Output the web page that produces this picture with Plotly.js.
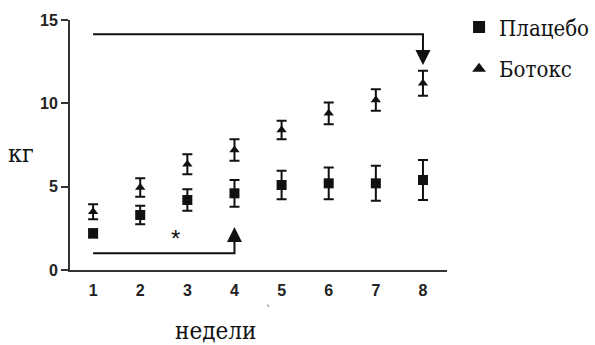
<!DOCTYPE html>
<html>
<head>
<meta charset="utf-8">
<script src="https://cdn.plot.ly/plotly-3.0.1.min.js"></script>
<style>html,body{margin:0;padding:0;background:#fff;}#chart{width:595px;height:345px;}</style>
</head>
<body>
<div id="chart"></div>
<script>
// ---- data ----
const weeks = [1, 2, 3, 4, 5, 6, 7, 8];
const placebo = [2.2, 3.3, 4.2, 4.6, 5.1, 5.2, 5.2, 5.4];
const placeboErr = [0.25, 0.55, 0.65, 0.8, 0.85, 0.95, 1.05, 1.2];
const botox = [3.5, 4.95, 6.35, 7.2, 8.4, 9.4, 10.2, 11.2];
const botoxErr = [0.45, 0.55, 0.6, 0.65, 0.55, 0.65, 0.65, 0.75];
const seriesNames = ["Плацебо", "Ботокс"];
const xTicks = [1, 2, 3, 4, 5, 6, 7, 8];
const yTicks = [0, 5, 10, 15];
// significance brackets
const topBracketX = [1, 8, 8];
const topBracketY = [14.15, 14.15, 12.6];
const topArrowX = [8];
const topArrowY = [12.3];
const bottomBracketX = [1, 4, 4];
const bottomBracketY = [1.0, 1.0, 2.3];
const bottomArrowX = [4];
const bottomArrowY = [2.58];
const starX = 2.74, starY = 1.92;

const ink = '#111';
const traces = [
  {x: weeks, y: placebo, name: seriesNames[0], legendgroup: 'p', type: 'scatter', mode: 'markers',
   marker: {symbol: 'square', size: 10, color: ink},
   error_y: {type: 'data', array: placeboErr, visible: true, color: ink, thickness: 2, width: 5}},
  {x: weeks, y: botox, name: seriesNames[1], legendgroup: 'b', type: 'scatter', mode: 'markers',
   marker: {symbol: 'triangle-up', size: 9, color: ink},
   error_y: {type: 'data', array: botoxErr, visible: true, color: ink, thickness: 2, width: 5}},
  {x: topBracketX, y: topBracketY, mode: 'lines', line: {color: ink, width: 2}, showlegend: false, hoverinfo: 'skip'},
  {x: topArrowX, y: topArrowY, mode: 'markers', marker: {symbol: 'arrow-down', size: 15, color: ink}, showlegend: false, hoverinfo: 'skip', cliponaxis: false},
  {x: bottomBracketX, y: bottomBracketY, mode: 'lines', line: {color: ink, width: 2}, showlegend: false, hoverinfo: 'skip'},
  {x: bottomArrowX, y: bottomArrowY, mode: 'markers', marker: {symbol: 'arrow-up', size: 15, color: ink}, showlegend: false, hoverinfo: 'skip'}
];

const sans = 'Liberation Sans';
const serif = 'DejaVu Serif Condensed, DejaVu Serif';
const layout = {
  width: 595, height: 345,
  margin: {l: 70, r: 148, t: 20, b: 75, autoexpand: false},
  paper_bgcolor: '#fff', plot_bgcolor: '#fff',
  showlegend: true,
  legend: {x: 1.032, xanchor: 'left', y: 1.055, yanchor: 'top',
           font: {family: serif, size: 22, color: ink}, bgcolor: 'rgba(0,0,0,0)',
           tracegroupgap: 10, itemsizing: 'constant'},
  xaxis: {range: [0.51, 8.51], tickvals: xTicks, ticktext: xTicks.map(String),
          showgrid: false, zeroline: false, showline: true, linecolor: '#333', linewidth: 2,
          ticks: '', ticklabelstandoff: 5,
          tickfont: {family: sans, size: 16, color: '#222', weight: 'bold'}},
  yaxis: {range: [0, 15], tickvals: yTicks, ticktext: yTicks.map(String),
          showgrid: false, zeroline: false, showline: true, linecolor: '#333', linewidth: 2,
          ticks: 'outside', ticklen: 7, tickwidth: 2, tickcolor: '#333',
          tickfont: {family: sans, size: 16, color: '#222', weight: 'bold'}},
  annotations: [
    {text: '*', x: starX, y: starY, xref: 'x', yref: 'y', showarrow: false,
     font: {family: sans, size: 24, color: ink}},
    {text: 'кг', x: 21, y: 153, xref: 'paper', yref: 'paper', showarrow: false,
     xanchor: 'center', yanchor: 'middle', font: {family: serif, size: 25, color: ink}},
    {text: 'недели', x: 215, y: 331, xref: 'paper', yref: 'paper', showarrow: false,
     xanchor: 'center', yanchor: 'middle', font: {family: serif, size: 24, color: ink}},
    {text: '`', x: 268, y: 311, xref: 'paper', yref: 'paper', showarrow: false,
     xanchor: 'center', yanchor: 'middle', font: {family: serif, size: 12, color: '#555'}}
  ]
};
// convert pixel-positioned labels into paper coords
const pw = 595 - 70 - 148, ph = 345 - 20 - 75;
layout.annotations.forEach(a => {
  if (a.xref === 'paper') { a.x = (a.x - 70) / pw; a.y = (345 - 75 - a.y) / ph; }
});
Plotly.newPlot('chart', traces, layout, {displayModeBar: false, staticPlot: true});
</script>
</body>
</html>
